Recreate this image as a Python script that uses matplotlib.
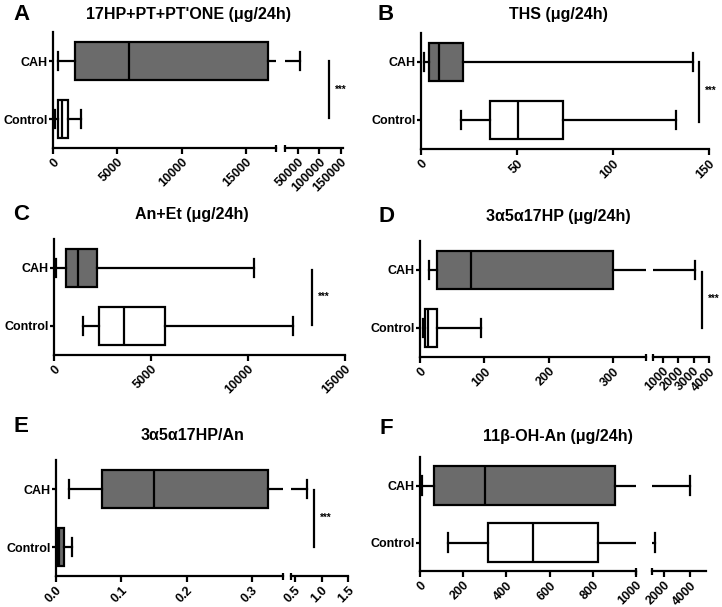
import matplotlib
matplotlib.use("Agg")
import matplotlib.pyplot as plt

plt.rcParams['font.family'] = ['Liberation Sans', 'DejaVu Sans']
plt.rcParams['font.weight'] = 'bold'

# ---------------- data ----------------
groups = ["Control", "CAH"]
# each: [whisker low, Q1, median, Q3, whisker high]
A_cah = [390, 1710, 5900, 16700, 55000]
A_ctrl = [150, 390, 720, 1170, 2170]
B_cah = [1.5, 4.2, 9.5, 22, 141.5]
B_ctrl = [21, 36, 50.5, 74, 133]
C_cah = [100, 600, 1250, 2200, 10300]
C_ctrl = [1500, 2330, 3620, 5700, 12300]
D_cah = [14, 26, 79, 300, 3100]
D_ctrl = [4.5, 8, 13, 26, 95]
E_cah = [0.02, 0.07, 0.15, 0.325, 0.73]
E_ctrl = [0.001, 0.002, 0.005, 0.012, 0.025]
F_cah = [10, 65, 300, 905, 3950]
F_ctrl = [130, 315, 525, 825, 1300]

titles = ["17HP+PT+PT'ONE (μg/24h)", "THS (μg/24h)", "An+Et (μg/24h)",
          "3α5α17HP (μg/24h)", "3α5α17HP/An", "11β-OH-An (μg/24h)"]
letters = ["A", "B", "C", "D", "E", "F"]
sig_x = [122500, 145, 13300, 3550, 0.86, None]
sig_text = "***"

W, H = 722, 607
GRAY = "#6b6b6b"

fig = plt.figure(figsize=(W / 100, H / 100), dpi=100)


def rect(x0, x1, ytop, ybot):
    return [x0 / W, (H - ybot) / H, (x1 - x0) / W, (ybot - ytop) / H]


# layout (pixels): segments (x0, x1, xlim, ticks), ytop, ybot
panels = [
    dict(data=(A_ctrl, A_cah), ctrl_fill="white",
         segs=[(53, 276, (0, 17330), [0, 5000, 10000, 15000]),
               (285, 343, (20000, 155000), [50000, 100000, 150000])],
         ytop=32, ybot=148, title=(188, 14), letter=(21, 14), sigy=(1.0, 0.02)),
    dict(data=(B_ctrl, B_cah), ctrl_fill="white",
         segs=[(421, 709, (0, 150), [0, 50, 100, 150])],
         ytop=33, ybot=149, title=(558, 14), letter=(386, 14), sigy=(1.0, -0.03)),
    dict(data=(C_ctrl, C_cah), ctrl_fill="white",
         segs=[(54, 345, (0, 15000), [0, 5000, 10000, 15000])],
         ytop=239, ybot=355, title=(192, 215), letter=(21, 215), sigy=(0.97, 0.02)),
    dict(data=(D_ctrl, D_cah), ctrl_fill="white",
         segs=[(420, 646, (0, 351), [0, 100, 200, 300]),
               (653, 709, (380, 4000), [1000, 2000, 3000, 4000])],
         ytop=241, ybot=357, title=(558, 217), letter=(386, 217), sigy=(0.97, 0.0)),
    dict(data=(E_ctrl, E_cah), ctrl_fill=GRAY,
         segs=[(56, 283, (0, 0.3475), [0.0, 0.1, 0.2, 0.3]),
               (291, 348, (0.4245, 1.5), [0.5, 1.0, 1.5])],
         ytop=460, ybot=576, title=(193, 435), letter=(21, 427), sigy=(0.98, 0.0)),
    dict(data=(F_ctrl, F_cah), ctrl_fill="white",
         segs=[(420, 636, (0, 1000), [0, 200, 400, 600, 800, 1000]),
               (652, 706, (1100, 5200), [2000, 4000])],
         ytop=457, ybot=571, title=(558, 436), letter=(386, 428), sigy=None),
]

LW = 1.6


def fmt(v, is_float):
    if is_float:
        return f"{v:.1f}"
    return f"{int(v)}"


for i, p in enumerate(panels):
    ctrl, cah = p["data"]
    stats = []
    for lab, s in zip(groups, (ctrl, cah)):
        stats.append(dict(label=lab, whislo=s[0], q1=s[1], med=s[2], q3=s[3],
                          whishi=s[4], fliers=[]))
    nseg = len(p["segs"])
    axes = []
    for j, (x0, x1, xl, ticks) in enumerate(p["segs"]):
        ax = fig.add_axes(rect(x0, x1, p["ytop"], p["ybot"]))
        axes.append(ax)
        bp = ax.bxp(stats, positions=[0, 1], widths=0.67, orientation='horizontal',
                    patch_artist=True, showfliers=False, capwidths=0.32,
                    boxprops=dict(linewidth=LW, edgecolor="black"),
                    medianprops=dict(color="black", linewidth=LW),
                    whiskerprops=dict(color="black", linewidth=LW),
                    capprops=dict(color="black", linewidth=LW))
        bp["boxes"][0].set_facecolor(p["ctrl_fill"])
        bp["boxes"][1].set_facecolor(GRAY)
        # hide parts lying wholly outside this segment (avoid edge slivers)
        for k, st in enumerate(stats):
            if st["q3"] < xl[0] or st["q1"] > xl[1]:
                bp["boxes"][k].set_visible(False)
                bp["medians"][k].set_visible(False)
            if st["whislo"] < xl[0] - 0 and st["q1"] < xl[0]:
                bp["whiskers"][2 * k].set_visible(False)
                bp["caps"][2 * k].set_visible(False)
            if st["whishi"] < xl[0]:
                bp["whiskers"][2 * k + 1].set_visible(False)
                bp["caps"][2 * k + 1].set_visible(False)
            if st["whishi"] > xl[1]:
                bp["caps"][2 * k + 1].set_visible(False)
        ax.set_xlim(*xl)
        ax.set_ylim(-0.5, 1.5)
        for sp in ("top", "right"):
            ax.spines[sp].set_visible(False)
        ax.spines["bottom"].set_linewidth(LW)
        ax.spines["left"].set_linewidth(LW)
        is_float = isinstance(ticks[0], float)
        ax.set_xticks(ticks)
        ax.set_xticklabels([fmt(t, is_float) for t in ticks], rotation=45,
                           ha="right", va="top", rotation_mode="anchor",
                           fontsize=9, fontweight="bold")
        ax.tick_params(axis="x", direction="out", length=4, width=LW, pad=2)
        if j == 0:
            ax.set_yticks([0, 1])
            ax.set_yticklabels(groups, fontsize=9, fontweight="bold")
            ax.tick_params(axis="y", direction="out", length=3, width=LW, pad=1)
        else:
            ax.spines["left"].set_visible(False)
            ax.set_yticks([])
        ax.patch.set_alpha(0)
        # break markers
        if nseg > 1:
            xe = 1 if j == 0 else 0
            ax.plot([xe, xe], [-0.035, 0.025], transform=ax.transAxes,
                    color="black", lw=LW, clip_on=False, solid_capstyle="butt")
    if sig_x[i] is not None:
        ax = axes[-1]
        y0, y1 = p["sigy"]
        ax.plot([sig_x[i], sig_x[i]], [y0, y1], color="black", lw=LW, clip_on=False)
        ax.annotate(sig_text, xy=(sig_x[i], 0.5), xytext=(4, 0),
                    textcoords="offset points", fontsize=7, va="center",
                    ha="left", annotation_clip=False)
    tx, ty = p["title"]
    fig.text(tx / W, 1 - ty / H, titles[i], ha="center", va="center",
             fontsize=11.5, fontweight="bold")
    lx, ly = p["letter"]
    fig.text(lx / W, 1 - ly / H, letters[i], ha="center", va="center",
             fontsize=16, fontweight="bold")

fig.savefig("out.png", dpi=100)
